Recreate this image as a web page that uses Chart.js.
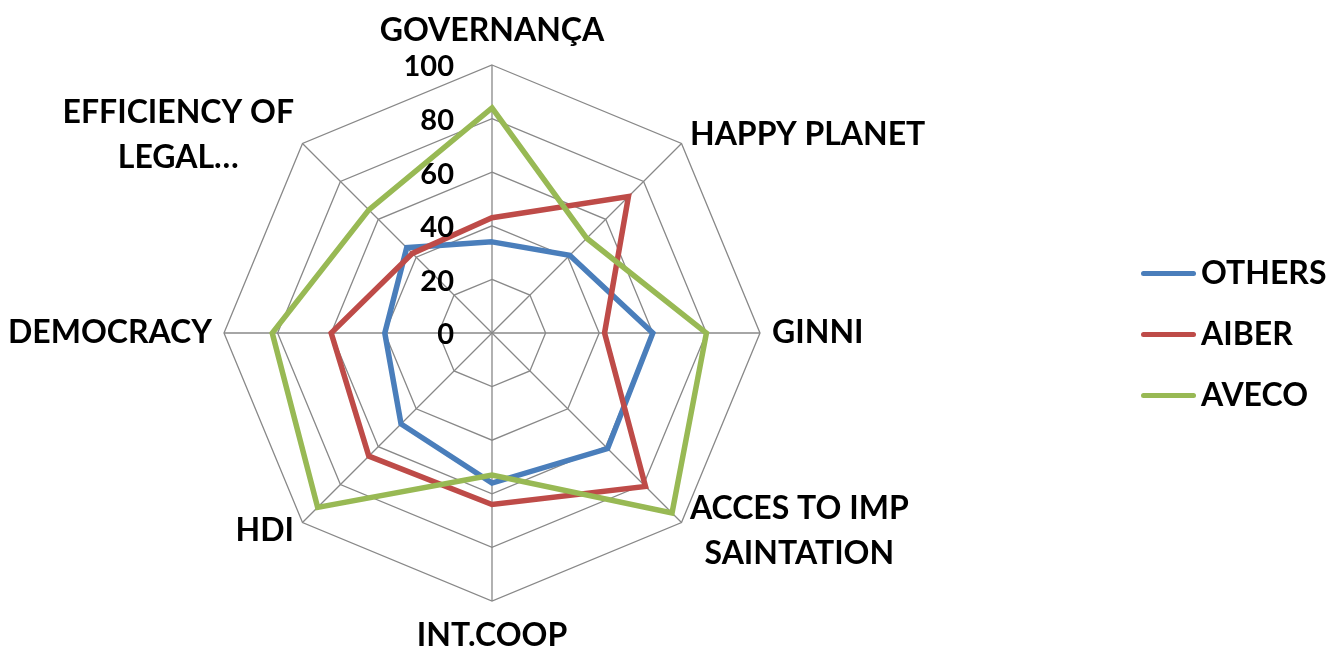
<!DOCTYPE html>
<html>
<head>
<meta charset="utf-8">
<script src="https://cdn.jsdelivr.net/npm/chart.js"></script>
<style>
    html, body { margin: 0; padding: 0; background: #fff; }
    #wrap { position: relative; width: 1328px; height: 650px; }
    #chartBox { position: absolute; left: 0; top: 0; width: 1328px; height: 650px; }
    #legend { position: absolute; left: 1141px; top: 247px; margin: 0; padding: 0; list-style: none;
              font: bold 32px Lato, sans-serif; color: #000; }
    #legend li { height: 61px; line-height: 50px; white-space: nowrap; }
    #legend span { display: inline-block; width: 55px; height: 5px; border-radius: 3px;
                   vertical-align: middle; margin-right: 5px; position: relative; top: -2px; }
</style>
</head>
<body>
<div id="wrap">
    <div id="chartBox"><canvas id="radarChart"></canvas></div>
    <ul id="legend"></ul>
</div>
<script>
// categorias e valores
var categorias = ['GOVERNANÇA', 'HAPPY PLANET', 'GINNI', ['ACCES TO IMP', 'SAINTATION'],
                  'INT.COOP', 'HDI', 'DEMOCRACY', ['EFFICIENCY OF', 'LEGAL…']];
var others = [34, 41, 60, 61, 56, 48, 40, 45];
var aiber  = [43, 72, 42, 81, 64, 65, 60, 42];
var aveco  = [84, 50, 80, 95, 53, 92, 82, 65];
var tickLabels = [0, 20, 40, 60, 80, 100];

var series = [
    { label: 'OTHERS', data: others, color: '#4A7EBB' },
    { label: 'AIBER',  data: aiber,  color: '#BE4B48' },
    { label: 'AVECO',  data: aveco,  color: '#98B954' }
];

// numeros do eixo a esquerda da linha vertical
var tickPlugin = {
    id: 'tickLabels',
    afterDatasetsDraw: function (chart) {
        var r = chart.scales.r;
        var ctx = chart.ctx;
        ctx.save();
        ctx.font = 'bold 29px Lato, sans-serif';
        ctx.fillStyle = '#000';
        ctx.textAlign = 'right';
        ctx.textBaseline = 'middle';
        tickLabels.forEach(function (v) {
            var d = r.getDistanceFromCenterForValue(v);
            ctx.fillText(String(v), r.xCenter - 38, r.yCenter - d + 2);
        });
        ctx.restore();
    }
};

// nomes dos eixos, posicionados como no excel (centrados na vertical dos lados)
var labelPlugin = {
    id: 'eixoLabels',
    afterDraw: function (chart) {
        var r = chart.scales.r;
        var ctx = chart.ctx;
        var n = chart.data.labels.length;
        var lh = 45;
        ctx.save();
        ctx.font = 'bold 32px Lato, sans-serif';
        ctx.fillStyle = '#000';
        ctx.textAlign = 'center';
        ctx.textBaseline = 'middle';
        chart.data.labels.forEach(function (lab, i) {
            var lines = [].concat(lab);
            var p = r.getPointPosition(i, r.drawingArea + 12);
            var ang = i * 360 / n;
            var w = 0;
            lines.forEach(function (t) { w = Math.max(w, ctx.measureText(t).width); });
            var h = lines.length * lh;
            var cx, top;
            if (ang === 0) { cx = p.x; top = p.y - h; }
            else if (ang === 180) { cx = p.x; top = p.y; }
            else if (ang < 180) { cx = p.x + w / 2; top = p.y - h / 2; }
            else { cx = p.x - w / 2; top = p.y - h / 2; }
            lines.forEach(function (t, k) {
                ctx.fillText(t, cx, top + lh / 2 + k * lh);
            });
        });
        ctx.restore();
    }
};

var ctx = document.getElementById('radarChart').getContext('2d');
var radarChart = new Chart(ctx, {
    type: 'radar',
    data: {
        labels: categorias,
        datasets: series.map(function (s, i) {
            return {
                label: s.label,
                data: s.data,
                borderColor: s.color,
                backgroundColor: s.color,
                borderWidth: 5.5,
                fill: false,
                pointRadius: 0,
                pointHoverRadius: 0,
                tension: 0,
                order: series.length - i
            };
        })
    },
    options: {
        responsive: true,
        maintainAspectRatio: false,
        animation: false,
        layout: { padding: { left: 224, right: 568, top: 65, bottom: 49 } },
        plugins: {
            legend: { display: false },
            tooltip: { enabled: false }
        },
        scales: {
            r: {
                min: 0,
                max: 100,
                ticks: { stepSize: 20, display: false },
                grid: { color: '#888', lineWidth: 1.3 },
                angleLines: { color: '#888', lineWidth: 1.3 },
                pointLabels: { display: false }
            }
        }
    },
    plugins: [tickPlugin, labelPlugin]
});

// legenda em html
var legend = document.getElementById('legend');
series.forEach(function (s) {
    var li = document.createElement('li');
    li.innerHTML = '<span style="background:' + s.color + '"></span>' + s.label;
    legend.appendChild(li);
});
</script>
</body>
</html>
